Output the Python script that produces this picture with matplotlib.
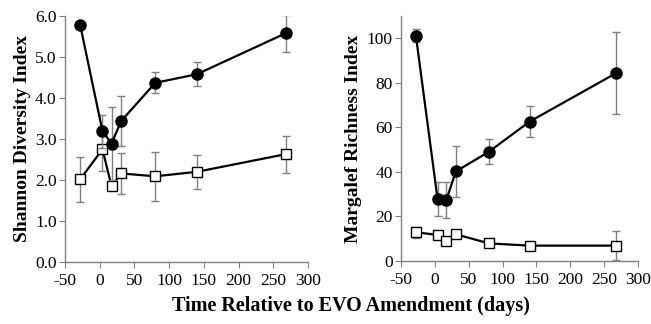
import matplotlib
matplotlib.use("Agg")
import matplotlib.pyplot as plt

plt.rcParams['font.family'] = ['Liberation Serif', 'DejaVu Serif']
plt.rcParams['axes.unicode_minus'] = False

days = [-28, 4, 17, 31, 80, 140, 268]

shannon_filled = [5.77, 3.19, 2.89, 3.44, 4.37, 4.58, 5.58]
shannon_filled_err = [0.0, 0.40, 0.89, 0.60, 0.26, 0.29, 0.45]
shannon_open = [2.02, 2.75, 1.85, 2.16, 2.09, 2.20, 2.63]
shannon_open_err = [0.55, 0.54, 0.0, 0.49, 0.59, 0.41, 0.45]

margalef_filled = [101.2, 27.8, 27.4, 40.2, 49.1, 62.6, 84.4]
margalef_filled_err = [3.0, 7.5, 8.0, 11.6, 5.6, 6.8, 18.2]
margalef_open = [12.9, 11.7, 9.0, 12.0, 7.9, 6.9, 6.9]
margalef_open_err = [2.5, 0.0, 0.0, 0.0, 0.0, 0.0, 6.5]

xticks = [-50, 0, 50, 100, 150, 200, 250, 300]

fig = plt.figure(figsize=(6.51, 3.24), dpi=100)
W, H = 651, 324
ax1 = fig.add_axes([65 / W, 1 - 262 / H, (308 - 65) / W, (262 - 16) / H])
ax2 = fig.add_axes([401 / W, 1 - 261 / H, (638 - 401) / W, (261 - 16) / H])

err_kw = dict(ecolor='#808080', elinewidth=1.0, capsize=3, capthick=1.0)

def draw(ax, f, fe, o, oe):
    ax.errorbar(days, o, yerr=oe, color='black', lw=1.6, marker='s', ms=6.8,
                mfc='white', mec='black', mew=1.0, zorder=3, **err_kw)
    ax.errorbar(days, f, yerr=fe, color='black', lw=1.6, marker='o', ms=8,
                mfc='black', mec='black', zorder=4, **err_kw)
    for s in ['top', 'right']:
        ax.spines[s].set_visible(False)
    for s in ['left', 'bottom']:
        ax.spines[s].set_color('#808080')
        ax.spines[s].set_linewidth(1.0)
    ax.set_xlim(-50, 300)
    ax.set_xticks(xticks)
    ax.set_xticklabels([str(t) for t in xticks])
    ax.tick_params(axis='both', colors='#808080', labelcolor='black', labelsize=12.5, length=4)
    ax.tick_params(axis='x', direction='out', pad=4)
    ax.tick_params(axis='y', pad=2)

draw(ax1, shannon_filled, shannon_filled_err, shannon_open, shannon_open_err)
ax1.set_ylim(0, 6)
ax1.set_yticks([0, 1, 2, 3, 4, 5, 6])
ax1.set_yticklabels(['0.0', '1.0', '2.0', '3.0', '4.0', '5.0', '6.0'])
ax1.set_ylabel('Shannon Diversity Index', fontsize=14, fontweight='bold', labelpad=3)

draw(ax2, margalef_filled, margalef_filled_err, margalef_open, margalef_open_err)
ax2.set_ylim(0, 110)
ax2.set_yticks([0, 20, 40, 60, 80, 100])
ax2.set_ylabel('Margalef Richness Index', fontsize=14, fontweight='bold', labelpad=3)

fig.text(351 / W, 0.025, 'Time Relative to EVO Amendment (days)', ha='center', va='bottom',
         fontsize=14.5, fontweight='bold')

fig.savefig('out.png', dpi=100)
